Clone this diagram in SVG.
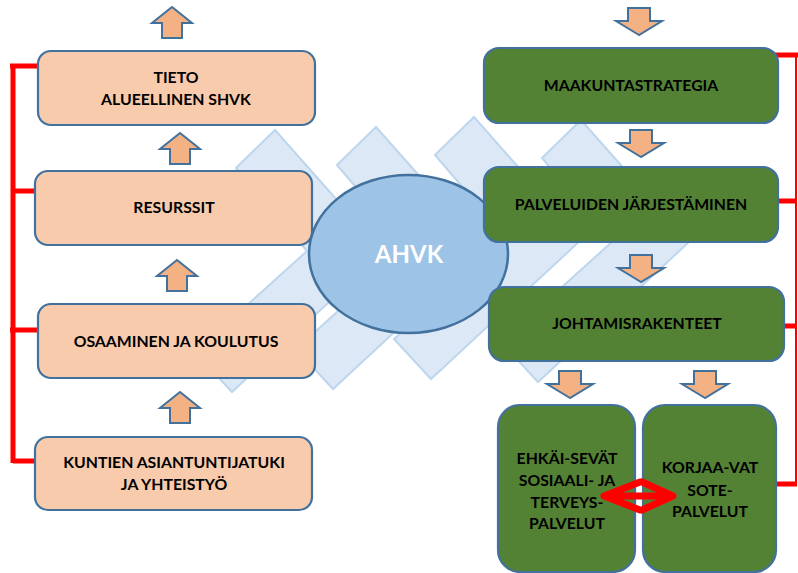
<svg xmlns="http://www.w3.org/2000/svg" width="798" height="573" viewBox="0 0 798 573">
<defs>
<style>
.bg{fill:#ffffff}
.chev{fill:#dce8f5;stroke:#bdd6ee;stroke-width:2}
.peach{fill:#f8cbad;stroke:#41719c;stroke-width:2.2}
.green{fill:#548235;stroke:#41719c;stroke-width:2.2}
.ell{fill:#9dc3e6;stroke:#41719c;stroke-width:2.5}
.blk{fill:#f4b183;stroke:#41719c;stroke-width:2;stroke-linejoin:miter}
.t{font-family:"Lato","Liberation Sans",sans-serif;font-weight:bold;font-size:15.8px;fill:#000;text-anchor:middle}
.tw{font-family:"Lato","Liberation Sans",sans-serif;font-weight:bold;font-size:24px;fill:#ffffff;text-anchor:middle}
.red{fill:none;stroke:#ff0000;stroke-width:5}
.redthin{fill:none;stroke:#ff0000;stroke-width:2}
.dbl{fill:none;stroke:#ff0000;stroke-width:7;stroke-linecap:round;stroke-linejoin:round}
</style>
<polygon id="chevShape" points="236,168 275,130 383,252 232,392 195,352 307,251"/>
<path id="upArrow" d="M0,0 L20,16 L10,16 L10,31 L-10,31 L-10,16 L-20,16 Z"/>
<path id="downArrow" d="M0,0 L-23,-14 L-11,-14 L-11,-27 L11,-27 L11,-14 L23,-14 Z"/>
</defs>
<rect class="bg" x="0" y="0" width="798" height="573"/>

<g id="background">
<use href="#chevShape" class="chev"/>
<use href="#chevShape" class="chev" transform="translate(101,-3)"/>
<use href="#chevShape" class="chev" transform="translate(199,-13)"/>
<use href="#chevShape" class="chev" transform="translate(306,-10)"/>
</g>

<g id="connectors">
<path class="red" d="M13,66 V463 M10,66 H45 M13,191 H48 M10,330 H45 M13,461 H48"/>
<path class="redthin" d="M796,55 V484"/>
<path class="red" d="M766,55 H798 M767,201 H797 M767,326 H797 M763,484 H797"/>
<use href="#upArrow" class="blk" transform="translate(172,7)"/>
<use href="#upArrow" class="blk" transform="translate(180,133)"/>
<use href="#upArrow" class="blk" transform="translate(177,260)"/>
<use href="#upArrow" class="blk" transform="translate(180,392)"/>
<use href="#downArrow" class="blk" transform="translate(639,35)"/>
<use href="#downArrow" class="blk" transform="translate(641,157)"/>
<use href="#downArrow" class="blk" transform="translate(641,282)"/>
<use href="#downArrow" class="blk" transform="translate(570,398)"/>
<use href="#downArrow" class="blk" transform="translate(705,398)"/>
</g>

<g id="node-tieto">
<rect class="peach" x="38" y="51" width="277" height="74" rx="13"/>
<text class="t" x="176" y="83">TIETO</text>
<text class="t" x="176" y="105">ALUEELLINEN SHVK</text>
</g>
<g id="node-resurssit">
<rect class="peach" x="35" y="171" width="277" height="74" rx="13"/>
<text class="t" x="174" y="213">RESURSSIT</text>
</g>
<g id="node-osaaminen">
<rect class="peach" x="38" y="304" width="277" height="74" rx="13"/>
<text class="t" x="176" y="347">OSAAMINEN JA KOULUTUS</text>
</g>
<g id="node-kuntien">
<rect class="peach" x="35" y="437" width="277" height="73" rx="13"/>
<text class="t" x="174" y="468">KUNTIEN ASIANTUNTIJATUKI</text>
<text class="t" x="174" y="490">JA YHTEISTYÖ</text>
</g>

<g id="node-ahvk">
<ellipse class="ell" cx="408.5" cy="254" rx="99.5" ry="79"/>
<text class="tw" x="409" y="263">AHVK</text>
</g>

<g id="node-maakunta">
<rect class="green" x="484" y="48" width="294" height="75" rx="15"/>
<text class="t" x="631" y="91">MAAKUNTASTRATEGIA</text>
</g>
<g id="node-palveluiden">
<rect class="green" x="484" y="167" width="294" height="75" rx="15"/>
<text class="t" x="631" y="210">PALVELUIDEN JÄRJESTÄMINEN</text>
</g>
<g id="node-johtamis">
<rect class="green" x="489" y="287" width="295" height="74" rx="15"/>
<text class="t" x="637" y="329">JOHTAMISRAKENTEET</text>
</g>
<g id="node-ehkaisevat">
<rect class="green" x="498" y="405" width="137" height="167" rx="22"/>
<text class="t" x="567" y="464">EHKÄI-SEVÄT</text>
<text class="t" x="567" y="486">SOSIAALI- JA</text>
<text class="t" x="567" y="508">TERVEYS-</text>
<text class="t" x="567" y="529">PALVELUT</text>
</g>
<g id="node-korjaavat">
<rect class="green" x="643" y="405" width="133" height="167" rx="22"/>
<text class="t" x="710" y="473">KORJAA-VAT</text>
<text class="t" x="710" y="496">SOTE-</text>
<text class="t" x="710" y="517">PALVELUT</text>
</g>

<g id="connector-double">
<path class="dbl" d="M604,496 H673 M640,482 L604,496 L640,510 M642,482 L673,496 L642,510"/>
</g>
</svg>
